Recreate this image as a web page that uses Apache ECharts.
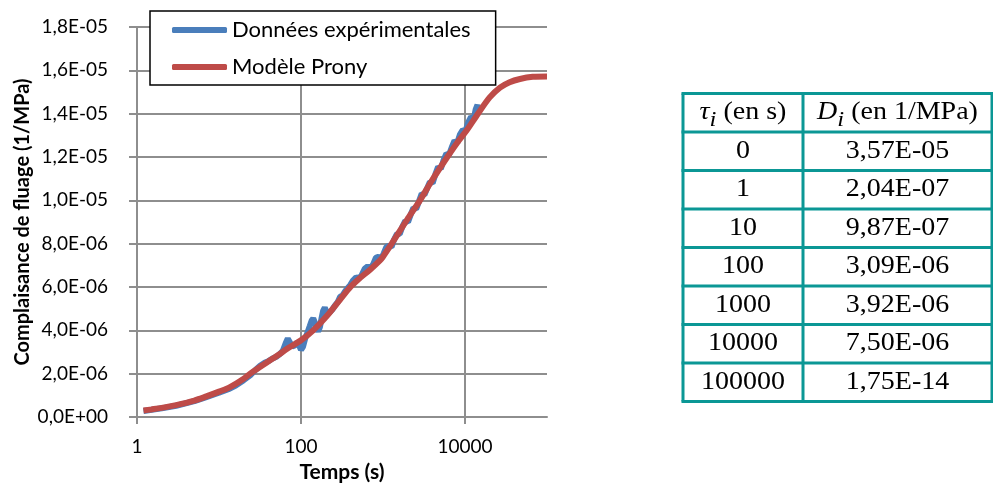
<!DOCTYPE html>
<html lang="fr">
<head>
<meta charset="UTF-8">
<title>Complaisance de fluage</title>
<style>
  html, body { margin: 0; padding: 0; background: #fff; }
</style>
</head>
<body>
<div id="main" style="width:993px; height:486px"></div>

<script src="https://cdn.jsdelivr.net/npm/echarts@6.0.0/dist/echarts.min.js"></script>
<script>
    // données (valeurs en 1e-6 1/MPa)
    var expTemps = [1.2, 2, 3, 5, 7, 10, 13, 16, 20, 24, 28, 32, 36, 40, 45, 50, 55, 60, 65, 69,
        73, 78, 84, 90, 95, 100, 106, 112, 120, 128, 135, 141, 148, 155, 162, 170, 178, 186, 195, 205,
        220, 240, 260, 280, 300, 320, 345, 370, 400, 430, 470, 510, 550, 600, 650, 700, 760, 820, 880, 950,
        1020, 1100, 1180, 1270, 1370, 1480, 1600, 1730, 1870, 2020, 2180, 2350, 2540, 2740, 2960, 3200, 3450, 3730, 4030, 4350,
        4700, 5070, 5480, 5920, 6390, 6900, 7450, 8050, 8700, 9400, 10150, 10960, 11840, 12790, 13500, 14200, 14800];
    var expVal = [0.28, 0.40, 0.52, 0.73, 0.92, 1.12, 1.28, 1.45, 1.70, 1.92, 2.18, 2.38, 2.50, 2.58, 2.70, 2.78, 2.90, 3.05, 3.40, 3.62,
        3.45, 3.25, 3.30, 3.45, 3.30, 3.10, 3.25, 3.60, 3.90, 4.20, 4.45, 4.55, 4.35, 4.10, 3.95, 4.15, 4.55, 4.90, 5.05, 4.85,
        4.80, 4.95, 5.15, 5.30, 5.55, 5.60, 5.80, 5.95, 6.10, 6.30, 6.45, 6.40, 6.55, 6.85, 6.95, 6.85, 7.05, 7.35, 7.40, 7.30,
        7.55, 7.85, 7.90, 7.85, 8.20, 8.45, 8.45, 8.80, 9.05, 9.00, 9.35, 9.65, 9.60, 9.95, 10.30, 10.25, 10.55, 10.85, 10.80, 11.20,
        11.55, 11.45, 11.85, 12.15, 12.10, 12.45, 12.75, 12.65, 13.05, 13.25, 13.20, 13.60, 13.85, 13.75, 14.20, 14.40, 14.05];

    var pronyTemps = [1.2, 1.5, 2, 3, 5, 7, 10, 13.6, 20, 24, 30, 50, 70, 100, 141, 200, 300, 400, 500, 695,
        919, 1000, 1277, 2000, 2826, 4000, 6085, 8000, 10500, 14400, 20000, 26700, 35000, 46800, 67000, 100000];
    var pronyVal = [0.30, 0.35, 0.42, 0.55, 0.76, 0.95, 1.17, 1.38, 1.77, 2.00, 2.25, 2.80, 3.18, 3.54, 4.00, 4.60, 5.42, 6.00, 6.35, 6.80,
        7.23, 7.40, 8.00, 9.15, 10.00, 10.95, 12.00, 12.65, 13.23, 14.00, 14.75, 15.20, 15.45, 15.60, 15.70, 15.72];

    var xLabels = [1, 100, 10000];

    // tableau des paramètres de Prony
    var tau = [0, 1, 10, 100, 1000, 10000, 100000];
    var dCoef = [3.57e-5, 2.04e-7, 9.87e-7, 3.09e-6, 3.92e-6, 7.50e-6, 1.75e-14];

    function sci(v, d) {
        var s = v.toExponential(d);          // ex. "1.8e-5"
        var parts = s.split('e');
        var e = parseInt(parts[1], 10);
        var sign = e < 0 ? '-' : '+';
        var ee = Math.abs(e);
        return parts[0].replace('.', ',') + 'E' + sign + (ee < 10 ? '0' + ee : ee);
    }

    function pairs(xs, ys) {
        return xs.map(function (t, i) { return [t, ys[i] * 1e-6]; });
    }

    // construction du tableau avec des éléments graphiques
    var tabLeft = 683, tabMid = 803, tabRight = 992, tabTop = 93.5, rowH = 38.5;
    var teal = '#0b9795';
    var nRows = tau.length + 1;
    var tabBottom = tabTop + nRows * rowH;
    var elems = [];
    function hline(y) {
        elems.push({ type: 'line', shape: { x1: tabLeft - 1.5, y1: y, x2: tabRight + 1.5, y2: y },
            style: { stroke: teal, lineWidth: 3 }, z: 10 });
    }
    function vline(x) {
        elems.push({ type: 'line', shape: { x1: x, y1: tabTop, x2: x, y2: tabBottom },
            style: { stroke: teal, lineWidth: 3 }, z: 10 });
    }
    for (var r = 0; r <= nRows; r++) hline(tabTop + r * rowH);
    vline(tabLeft); vline(tabMid); vline(tabRight);

    var c1 = (tabLeft + tabMid) / 2, c2 = (tabMid + tabRight) / 2;
    var serif = 'Liberation Serif';
    var rich = {
        m: { fontFamily: serif, fontSize: 25, fill: '#000' },
        it: { fontFamily: serif, fontSize: 25, fontStyle: 'italic', fill: '#000' },
        s: { fontFamily: serif, fontSize: 22, fontStyle: 'italic', fill: '#000', padding: [14, 0, 0, 0] }
    };
    function cell(x, y, txt) {
        elems.push({ type: 'text', x: x, y: y, scaleX: 1.12, z: 11,
            style: { text: txt, rich: rich, align: 'center', verticalAlign: 'middle',
                font: '25px "Liberation Serif"', fill: '#000' } });
    }
    var hy = tabTop + rowH / 2;
    cell(c1, hy, '{it|τ}{s|i}{m| (en s)}');
    cell(c2, hy, '{it|D}{s|i}{m| (en 1/MPa)}');
    tau.forEach(function (t, i) {
        var y = tabTop + (i + 1.5) * rowH;
        cell(c1, y, '{m|' + String(t) + '}');
        cell(c2, y, '{m|' + sci(dCoef[i], 2) + '}');
    });

    var myChart = echarts.init(document.getElementById('main'));
    var gris = '#8e8e8e';
    var option = {
        animation: false,
        backgroundColor: '#fff',
        textStyle: { fontFamily: 'Lato' },
        grid: { left: 137, right: 446, top: 27, bottom: 69, containLabel: false, outerBoundsMode: 'none' },
        legend: {
            orient: 'vertical',
            left: 150, top: 11,
            padding: [7, 25, 6, 22],
            itemWidth: 55, itemHeight: 6, itemGap: 13,
            backgroundColor: '#fff',
            borderColor: '#000', borderWidth: 1.5, borderRadius: 0,
            textStyle: { fontFamily: 'Lato', fontSize: 22, color: '#000', lineHeight: 24 },
            data: [
                { name: 'Données expérimentales', icon: 'roundRect' },
                { name: 'Modèle Prony', icon: 'roundRect' }
            ]
        },
        xAxis: {
            type: 'log', logBase: 100,
            min: 1, max: 100000,
            name: 'Temps (s)', nameLocation: 'middle', nameGap: 45,
            nameTextStyle: { fontFamily: 'Lato', fontSize: 21, fontWeight: 'bold', color: '#000' },
            axisLine: { show: true, lineStyle: { color: gris, width: 2 } },
            axisTick: { show: true, inside: false, length: 7, lineStyle: { color: gris, width: 2 } },
            axisLabel: {
                fontFamily: 'Lato', fontSize: 19, color: '#000', margin: 20,
                showMaxLabel: false,
                formatter: function (v) {
                    var r = Math.round(v);
                    return xLabels.indexOf(r) >= 0 ? String(r) : '';
                }
            },
            splitLine: { show: true, showMinLine: false, showMaxLine: false, lineStyle: { color: gris, width: 2 } },
            minorTick: { show: false }
        },
        yAxis: {
            type: 'value',
            min: 0, max: 1.8e-5, interval: 2e-6,
            name: 'Complaisance de fluage (1/MPa)', nameLocation: 'middle', nameGap: 104,
            nameTextStyle: { fontFamily: 'Lato', fontSize: 20, fontWeight: 'bold', color: '#000' },
            axisLine: { show: true, lineStyle: { color: gris, width: 2 } },
            axisTick: { show: true, inside: false, length: 8, lineStyle: { color: gris, width: 2 } },
            axisLabel: {
                fontFamily: 'Lato', fontSize: 19, color: '#000', margin: 29,
                formatter: function (v) { return sci(v, 1); }
            },
            splitLine: { show: true, showMinLine: false, lineStyle: { color: gris, width: 2 } }
        },
        series: [
            {
                name: 'Données expérimentales',
                type: 'line',
                symbol: 'none',
                color: '#4a7ebb',
                lineStyle: { width: 6, color: '#4a7ebb' },
                data: pairs(expTemps, expVal)
            },
            {
                name: 'Modèle Prony',
                type: 'line',
                symbol: 'none',
                smooth: 0.3,
                color: '#be4b48',
                lineStyle: { width: 6, color: '#be4b48' },
                data: pairs(pronyTemps, pronyVal)
            }
        ],
        graphic: elems
    };
    myChart.setOption(option);
</script>
</body>
</html>
